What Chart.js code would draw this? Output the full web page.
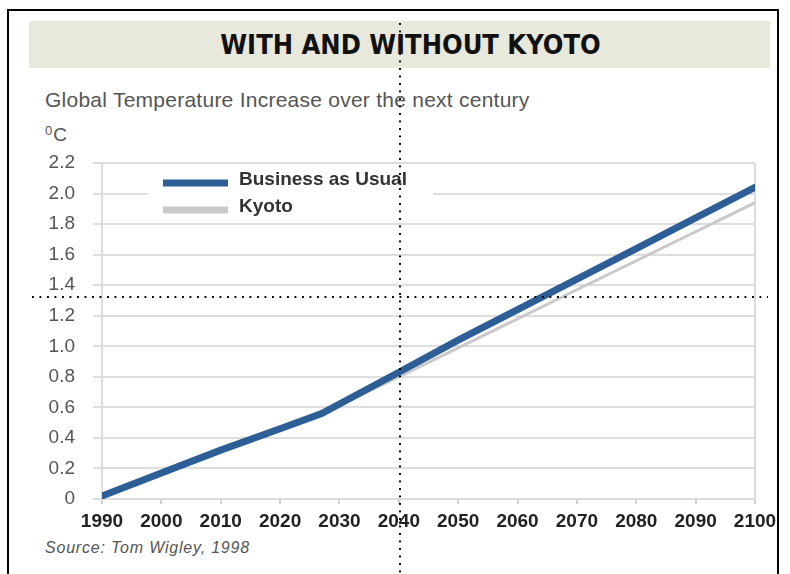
<!DOCTYPE html>
<html>
<head>
<meta charset="utf-8">
<script src="https://cdn.jsdelivr.net/npm/chart.js@4/dist/chart.umd.min.js"></script>
<style>
  html, body { margin: 0; padding: 0; background: #fff; }
  body { width: 790px; height: 574px; position: relative; overflow: hidden; font-family: 'Liberation Sans', Arial, sans-serif; }
  .frame { position: absolute; left: 7px; top: 9px; width: 772px; height: 600px; border: 2px solid #000; box-sizing: border-box; }
  .banner { position: absolute; left: 29px; top: 21px; width: 741px; height: 47px; background: #e8e8dc; }
  .banner h1 { margin: 0; padding-left: 22px; text-align: center; line-height: 47px; font-family: 'Liberation Sans Narrow', 'DejaVu Sans Condensed', sans-serif; font-weight: bold; font-size: 27px; color: #111; }
  .sub { position: absolute; left: 45px; top: 88px; font-size: 21px; letter-spacing: 0.25px; color: #555; white-space: nowrap; }
  .unit { position: absolute; left: 45px; top: 123px; font-size: 19px; color: #555; }
  .unit sup { font-size: 13px; vertical-align: 6px; margin-right: 1px; }
  .source { position: absolute; left: 45px; top: 539px; font-size: 16px; letter-spacing: 0.8px; font-style: italic; color: #555; white-space: nowrap; }
  canvas { position: absolute; left: 0; top: 0; }
  .dots-v { position: absolute; left: 399px; top: 23px; width: 2px; height: 552px; z-index: 5;
    background: linear-gradient(to bottom, #000 0 2px, transparent 2px) 0 0 / 2px 7.5px repeat-y; }
  .dots-h { position: absolute; left: 32px; top: 296px; width: 736px; height: 2px; z-index: 5;
    background: linear-gradient(to right, #000 0 2px, transparent 2px) 0 0 / 7.5px 2px repeat-x; }
</style>
</head>
<body>
<div class="frame"></div>
<div class="banner"><h1>WITH AND WITHOUT KYOTO</h1></div>
<div class="sub">Global Temperature Increase over the next century</div>
<div class="unit"><sup>0</sup>C</div>
<div class="source">Source: Tom Wigley, 1998</div>
<canvas id="chart" width="790" height="574"></canvas>
<div class="dots-v"></div>
<div class="dots-h"></div>
<script>
const years = [1990, 2000, 2010, 2020, 2027, 2040, 2050, 2060, 2070, 2080, 2090, 2100];
const businessAsUsual = [0.02, 0.17, 0.32, 0.46, 0.56, 0.83, 1.04, 1.24, 1.44, 1.64, 1.84, 2.04];
const kyoto = [0.02, 0.17, 0.32, 0.46, 0.56, 0.80, 0.99, 1.18, 1.37, 1.56, 1.75, 1.94];
const seriesNames = ['Business as Usual', 'Kyoto'];
const seriesColors = ['#2d5f96', '#c9c9c9'];

const toPoints = vals => years.map((y, i) => ({ x: y, y: vals[i] }));

// legend sits inside the plot, on a white patch over the grid
const insetLegend = {
  id: 'insetLegend',
  afterDatasetsDraw(chart) {
    const ctx = chart.ctx;
    ctx.save();
    ctx.fillStyle = '#fff';
    ctx.fillRect(148, 170, 285, 52);
    chart.data.datasets.forEach((ds, i) => {
      const cy = 183 + i * 27;
      ctx.fillStyle = ds.borderColor;
      ctx.fillRect(163, cy - 3.5, 65, 7);
      ctx.fillStyle = '#333';
      ctx.font = 'bold 19px "Liberation Sans", Arial, sans-serif';
      ctx.textBaseline = 'middle';
      ctx.fillText(ds.label, 239, cy - 3);
    });
    ctx.restore();
  }
};

new Chart(document.getElementById('chart'), {
  type: 'line',
  data: {
    datasets: [
      {
        label: seriesNames[0],
        data: toPoints(businessAsUsual),
        borderColor: seriesColors[0],
        borderWidth: 7,
        borderCapStyle: 'round',
        pointRadius: 0,
        tension: 0
      },
      {
        label: seriesNames[1],
        data: toPoints(kyoto),
        borderColor: seriesColors[1],
        borderWidth: 3,
        pointRadius: 0,
        tension: 0
      }
    ]
  },
  options: {
    responsive: false,
    animation: false,
    devicePixelRatio: 1,
    layout: { padding: { left: 42, top: 163, right: 35, bottom: 35 } },
    scales: {
      x: {
        type: 'linear',
        min: 1990,
        max: 2100,
        afterFit(s) { s.height = 40; },
        grid: {
          color: ctx => (ctx.index === 0 || ctx.index === 11) ? '#dcdcdc' : 'rgba(0,0,0,0)',
          lineWidth: 2,
          tickColor: '#d0d0d0',
          tickLength: 5
        },
        border: { color: '#dcdcdc', width: 2 },
        ticks: {
          stepSize: 10,
          autoSkip: false,
          maxRotation: 0,
          padding: 6,
          color: '#222',
          font: { family: '"Liberation Sans", Arial, sans-serif', size: 19, weight: 'bold' },
          callback: v => String(v)
        }
      },
      y: {
        min: 0,
        max: 2.2,
        afterFit(s) { s.width = 60; },
        grid: {
          color: '#dedede',
          lineWidth: 2,
          tickLength: 9
        },
        border: { color: '#dcdcdc', width: 2 },
        ticks: {
          stepSize: 0.2,
          padding: 18,
          color: '#555',
          font: { family: '"Liberation Sans", Arial, sans-serif', size: 19 },
          callback: v => v === 0 ? '0' : v.toFixed(1)
        }
      }
    },
    plugins: {
      legend: { display: false },
      tooltip: { enabled: false }
    }
  },
  plugins: [insetLegend]
});
</script>
</body>
</html>
